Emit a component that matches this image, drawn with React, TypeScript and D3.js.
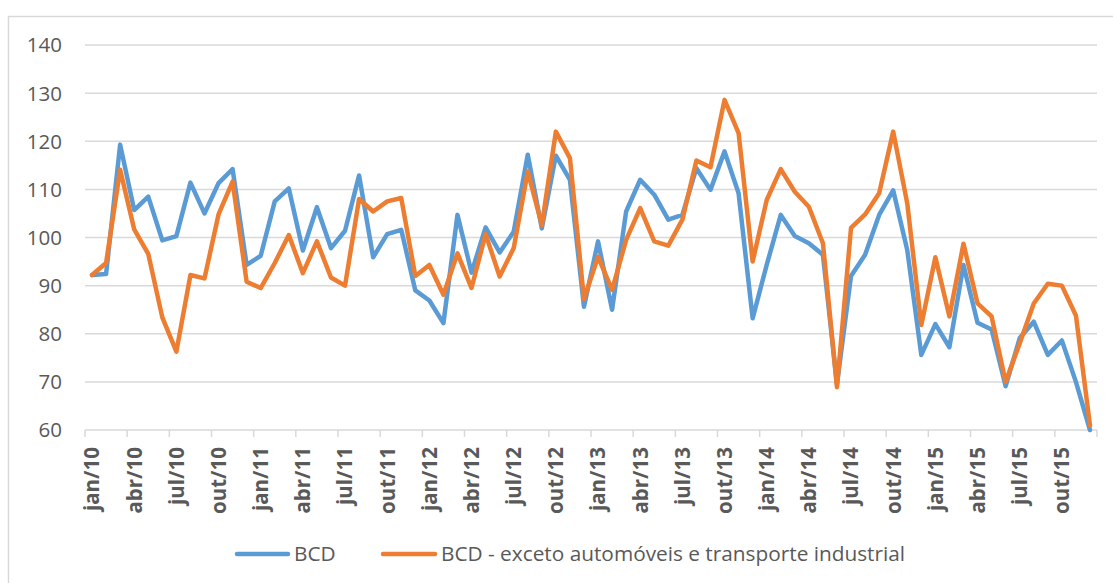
import * as d3 from "d3";

const years = ["10", "11", "12", "13", "14", "15"];
const monthNames = ["jan", "fev", "mar", "abr", "mai", "jun", "jul", "ago", "set", "out", "nov", "dez"];
const months = years.flatMap(y => monthNames.map(m => `${m}/${y}`));

const bcd = [
  92.2, 92.4, 119.3, 105.7, 108.5, 99.4, 100.3, 111.4, 105, 111.3, 114.2, 94.3,
  96.2, 107.5, 110.2, 97.3, 106.3, 97.8, 101.4, 112.9, 95.9, 100.7, 101.6, 89,
  86.9, 82.2, 104.7, 92.7, 102.1, 96.9, 101.2, 117.2, 101.9, 117, 112, 85.6,
  99.2, 85, 105.4, 112, 108.9, 103.7, 104.7, 114.4, 109.9, 117.9, 109.2, 83.2,
  94.3, 104.7, 100.3, 98.8, 96.4, 69.5, 92, 96.4, 104.7, 109.8, 97.4, 75.6,
  82, 77.2, 94.3, 82.3, 80.9, 69.1, 79.1, 82.5, 75.6, 78.6, 70, 60,
];

const bcdExAuto = [
  92.2, 94.7, 114.1, 101.7, 96.6, 83.4, 76.3, 92.2, 91.5, 104.8, 111.6, 90.8,
  89.5, 94.7, 100.5, 92.6, 99.2, 91.7, 90, 108, 105.4, 107.5, 108.2, 92,
  94.3, 88.1, 96.7, 89.5, 100.7, 91.9, 97.8, 113.7, 102.6, 122, 116.5, 87.2,
  96, 89.1, 99.5, 106.1, 99.2, 98.3, 103.7, 116, 114.6, 128.6, 121.7, 95,
  107.8, 114.2, 109.5, 106.4, 98.8, 68.9, 102, 104.8, 109.2, 122, 107.1, 81.8,
  95.9, 83.6, 98.7, 86.3, 83.6, 70, 78, 86.3, 90.4, 90, 83.8, 61,
];

const seriesNames = ["BCD", "BCD - exceto automóveis e transporte industrial"];
const colors = ["#5B9BD5", "#ED7D31"];

const W = 1113;
const H = 583;
const margin = { left: 85, right: 16, top: 45, bottom: 153 };
const textColor = "#595959";
const gridColor = "#D9D9D9";

export default function App() {
  const x = d3.scaleBand().domain(months).range([margin.left, W - margin.right]).padding(0);
  const y = d3.scaleLinear().domain([60, 140]).range([H - margin.bottom, margin.top]);
  const bw = x.bandwidth();
  const line = d3
    .line<number>()
    .x((_, i) => (x(months[i]) as number) + bw / 2)
    .y(d => y(d));

  const yTicks = y.ticks(8);
  const labelIdx = months.map((_, i) => i).filter(i => i % 3 === 0);
  const tickXs = [...labelIdx.map(i => x(months[i]) as number), W - margin.right];
  const baseY = y(60);

  return (
    <svg width={W} height={H} style={{ position: "absolute", left: 0, top: 0, background: "#fff" }}
      fontFamily="'Open Sans', sans-serif">
      <rect x={8.5} y={16.5} width={1200} height={700} fill="none" stroke={gridColor} strokeWidth={1.5} />
      {yTicks.map(t => (
        <g key={t}>
          {t > 60 && (
            <line x1={margin.left} x2={W - margin.right} y1={y(t)} y2={y(t)} stroke={gridColor} strokeWidth={1.5} />
          )}
          <text x={62} y={y(t)} dy="0.36em" textAnchor="end" fontSize={20.5} fill={textColor}>
            {t}
          </text>
        </g>
      ))}
      <line x1={margin.left} x2={W - margin.right} y1={baseY} y2={baseY} stroke={gridColor} strokeWidth={1.5} />
      {tickXs.map((tx, i) => (
        <line key={i} x1={tx} x2={tx} y1={baseY} y2={baseY + 7} stroke={gridColor} strokeWidth={1.5} />
      ))}
      {labelIdx.map(i => {
        const cx = (x(months[i]) as number) + bw / 2;
        return (
          <text key={i} transform={`translate(${cx},447) rotate(-90)`} dy="0.36em" textAnchor="end"
            fontSize={20.5} fontWeight="bold" fill={textColor}>
            {months[i]}
          </text>
        );
      })}
      {[bcd, bcdExAuto].map((s, k) => (
        <path key={k} d={line(s) ?? ""} fill="none" stroke={colors[k]} strokeWidth={4.5}
          strokeLinejoin="round" strokeLinecap="round" />
      ))}
      <g>
        <line x1={237} x2={288} y1={554} y2={554} stroke={colors[0]} strokeWidth={4.5} strokeLinecap="round" />
        <text x={294} y={554} dy="0.36em" fontSize={20.8} fill={textColor}>{seriesNames[0]}</text>
        <line x1={383} x2={435} y1={554} y2={554} stroke={colors[1]} strokeWidth={4.5} strokeLinecap="round" />
        <text x={441} y={554} dy="0.36em" fontSize={20.8} fill={textColor}>{seriesNames[1]}</text>
      </g>
    </svg>
  );
}
